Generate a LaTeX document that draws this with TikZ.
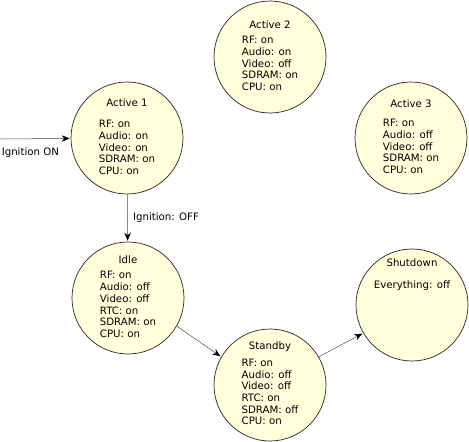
\documentclass[tikz,border=0pt]{standalone}
\usepackage{fontspec}
\setmainfont{DejaVu Sans}
\usetikzlibrary{arrows.meta,positioning}

\definecolor{statefill}{HTML}{FFFFDC}

\tikzset{
  state/.style={draw=black!85, line width=0.7pt, fill=statefill, circle,
    minimum size=112pt, inner sep=0pt, align=left},
  trans/.style={draw=black!70, line width=0.5pt,
    -{Stealth[length=8pt,width=6.5pt,black]}, shorten >=1pt},
  every node/.style={font=\fontsize{10.2}{11.7}\selectfont}
}

\begin{document}
\begin{tikzpicture}[x=1pt, y=-1pt]
    \useasboundingbox (0,0) rectangle (469,442);

    % states
    \node[state] (act1) at (127,138) {\begin{tabular}{@{}l@{}}
      \multicolumn{1}{c}{Active 1}\\[10pt]
      RF: on\\ Audio: on\\ Video: on\\ SDRAM: on\\ CPU: on\end{tabular}};
    \node[state] (act2) at (270,57) {\begin{tabular}{@{}l@{}}
      \multicolumn{1}{c}{Active 2}\\[4pt]
      RF: on\\ Audio: on\\ Video: off\\ SDRAM: on\\ CPU: on\end{tabular}};
    \node[state] (act3) at (411,138) {\begin{tabular}{@{}l@{}}
      \multicolumn{1}{c}{Active 3}\\[8pt]
      RF: on\\ Audio: off\\ Video: off\\ SDRAM: on\\ CPU: on\end{tabular}};
    \node[state] (idle) at (128,298) {\begin{tabular}{@{}l@{}}
      \multicolumn{1}{c}{Idle}\\[4pt]
      RF: on\\ Audio: off\\ Video: off\\ RTC: on\\ SDRAM: on\\ CPU: on\end{tabular}};
    \node[state] (stby) at (270,385) {\begin{tabular}{@{}l@{}}
      \multicolumn{1}{c}{Standby}\\[5pt]
      RF: on\\ Audio: off\\ Video: off\\ RTC: on\\ SDRAM: off\\ CPU: on\end{tabular}};
    \node[state] (shut) at (412,305) {};
    \node[anchor=north, align=center] (shuttxt) at ([yshift=-7pt]shut.north)
      {Shutdown\\[10pt] Everything: off};

    % transitions
    \coordinate (start) at (0,139);
    \draw[trans] (start) -- node[below=5pt, pos=0.43] (ignon) {Ignition ON} (act1);
    \draw[trans] (act1) -- node[right=2pt] (ignoff) {Ignition: OFF} (idle);
    \draw[trans] (idle.-30) -- (stby.150);
    \draw[trans] (stby.30) -- (shut.210);
\end{tikzpicture}
\end{document}
